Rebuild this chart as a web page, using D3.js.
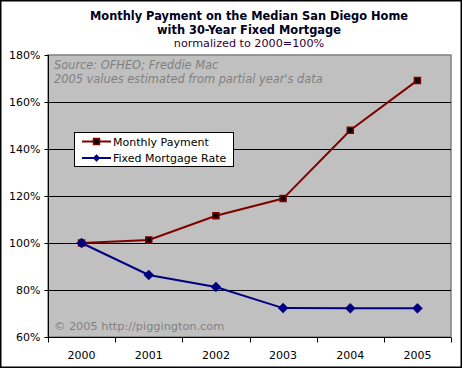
<!DOCTYPE html>
<html><head><meta charset="utf-8">
<script src="https://cdn.jsdelivr.net/npm/d3@7"></script>
<style>html,body{margin:0;padding:0;background:#fff}svg{display:block}</style>
</head><body>
<script>
const years = ["2000","2001","2002","2003","2004","2005"];
const monthlyPayment = [100, 101.3, 111.6, 118.9, 148.0, 169.2];
const mortgageRate = [100, 86.4, 81.3, 72.3, 72.2, 72.2];
const yTicks = [60, 80, 100, 120, 140, 160, 180];
const seriesNames = ["Monthly Payment", "Fixed Mortgage Rate"];

const W = 462, H = 368;
const m = {left: 48, top: 55, right: 451, bottom: 337};
const font = "'DejaVu Sans', Verdana, sans-serif";

const svg = d3.select("body").append("svg").attr("width", W).attr("height", H)
  .style("font-family", font);

svg.append("rect").attr("x", 0.75).attr("y", 0.75).attr("width", W - 1.5).attr("height", H - 1.5)
  .attr("fill", "#fff").attr("stroke", "#000").attr("stroke-width", 1.5);

// titles
svg.append("text").attr("x", 249).attr("y", 19.5).attr("text-anchor", "middle")
  .attr("font-size", 11.4).attr("font-weight", "bold").attr("fill", "#000020")
  .text("Monthly Payment on the Median San Diego Home");
svg.append("text").attr("x", 249).attr("y", 33.5).attr("text-anchor", "middle")
  .attr("font-size", 11.4).attr("font-weight", "bold").attr("fill", "#000020")
  .text("with 30-Year Fixed Mortgage");
svg.append("text").attr("x", 249).attr("y", 47).attr("text-anchor", "middle")
  .attr("font-size", 11.2).attr("fill", "#300040")
  .text("normalized to 2000=100%");

const x = d3.scaleBand().domain(years).range([m.left, m.right]);
const y = d3.scaleLinear().domain([60, 180]).range([m.bottom, m.top]);

// plot area
svg.append("rect").attr("x", m.left).attr("y", m.top)
  .attr("width", m.right - m.left).attr("height", m.bottom - m.top)
  .attr("fill", "#c0c0c0").attr("stroke", "#808080").attr("stroke-width", 1.5);

// gridlines
svg.append("g").selectAll("line").data(yTicks.filter(t => t > 60 && t < 180)).join("line")
  .attr("x1", m.left).attr("x2", m.right)
  .attr("y1", d => Math.round(y(d)) + 0.5).attr("y2", d => Math.round(y(d)) + 0.5)
  .attr("stroke", "#000").attr("stroke-width", 1);

// y axis
const yAxis = svg.append("g").attr("transform", `translate(${m.left + 0.5},0)`)
  .call(d3.axisLeft(y).tickValues(yTicks).tickFormat(d => d + "%").tickSize(4).tickPadding(4));
yAxis.select(".domain").attr("stroke", "#000").attr("d", `M0,${m.top}V${m.bottom}`);
yAxis.selectAll("text").attr("font-size", 11).attr("font-family", font).attr("fill", "#000");

// x axis
const xAxis = svg.append("g").attr("transform", `translate(0,${m.bottom + 0.5})`)
  .call(d3.axisBottom(x).tickSize(0).tickPadding(14));
xAxis.select(".domain").attr("stroke", "#000").attr("d", `M${m.left},0H${m.right}`);
xAxis.selectAll("text").attr("font-size", 11).attr("font-family", font).attr("fill", "#000");
// boundary ticks
xAxis.append("g").selectAll("line").data(years.concat(["end"])).join("line")
  .attr("x1", (d, i) => Math.round(m.left + i * x.step()) + 0.5)
  .attr("x2", (d, i) => Math.round(m.left + i * x.step()) + 0.5)
  .attr("y1", 0).attr("y2", 5).attr("stroke", "#000");

// annotations
svg.append("text").attr("x", 54).attr("y", 69).attr("font-size", 11.4).attr("font-style", "italic")
  .attr("fill", "#808080").text("Source: OFHEO; Freddie Mac");
svg.append("text").attr("x", 54).attr("y", 83).attr("font-size", 11.4).attr("font-style", "italic")
  .attr("fill", "#808080").text("2005 values estimated from partial year's data");
svg.append("text").attr("x", 54).attr("y", 330).attr("font-size", 11.3)
  .attr("fill", "#808080").text("\u00a9 2005 http://piggington.com");

const cx = d => x(d) + x.bandwidth() / 2;
const line = d3.line().x(d => cx(d[0])).y(d => y(d[1]));

const red = "#800000", blue = "#000080";
svg.append("path").datum(years.map((d, i) => [d, monthlyPayment[i]]))
  .attr("d", line).attr("fill", "none").attr("stroke", red).attr("stroke-width", 2);
svg.append("path").datum(years.map((d, i) => [d, mortgageRate[i]]))
  .attr("d", line).attr("fill", "none").attr("stroke", blue).attr("stroke-width", 2);

const sq = d3.symbol().type(d3.symbolSquare).size(36)();
const dia = "M0,-5L5,0L0,5L-5,0Z";
svg.append("g").selectAll("path").data(years.map((d, i) => [d, monthlyPayment[i]])).join("path")
  .attr("transform", d => `translate(${cx(d[0])},${y(d[1])})`).attr("d", sq)
  .attr("fill", "#000").attr("stroke", red).attr("stroke-width", 1.5);
svg.append("g").selectAll("path").data(years.map((d, i) => [d, mortgageRate[i]])).join("path")
  .attr("transform", d => `translate(${cx(d[0])},${y(d[1])})`).attr("d", dia)
  .attr("fill", blue).attr("stroke", blue).attr("stroke-width", 0.5);

// legend
const lg = svg.append("g");
lg.append("rect").attr("x", 74.5).attr("y", 132.5).attr("width", 159).attr("height", 34)
  .attr("fill", "#fff").attr("stroke", "#000");
const colors = [red, blue];
seriesNames.forEach((n, i) => {
  const yy = 141.5 + i * 16.5;
  lg.append("line").attr("x1", 82).attr("x2", 111).attr("y1", yy).attr("y2", yy)
    .attr("stroke", colors[i]).attr("stroke-width", 2);
  lg.append("path").attr("transform", `translate(96.5,${yy})`)
    .attr("d", i === 0 ? sq : "M0,-3.5L3.5,0L0,3.5L-3.5,0Z")
    .attr("fill", i === 0 ? "#000" : blue).attr("stroke", colors[i]).attr("stroke-width", i === 0 ? 1.5 : 0.5);
  lg.append("text").attr("x", 113).attr("y", yy + 4).attr("font-size", 11).attr("fill", "#000").text(n);
});
</script>
</body></html>
